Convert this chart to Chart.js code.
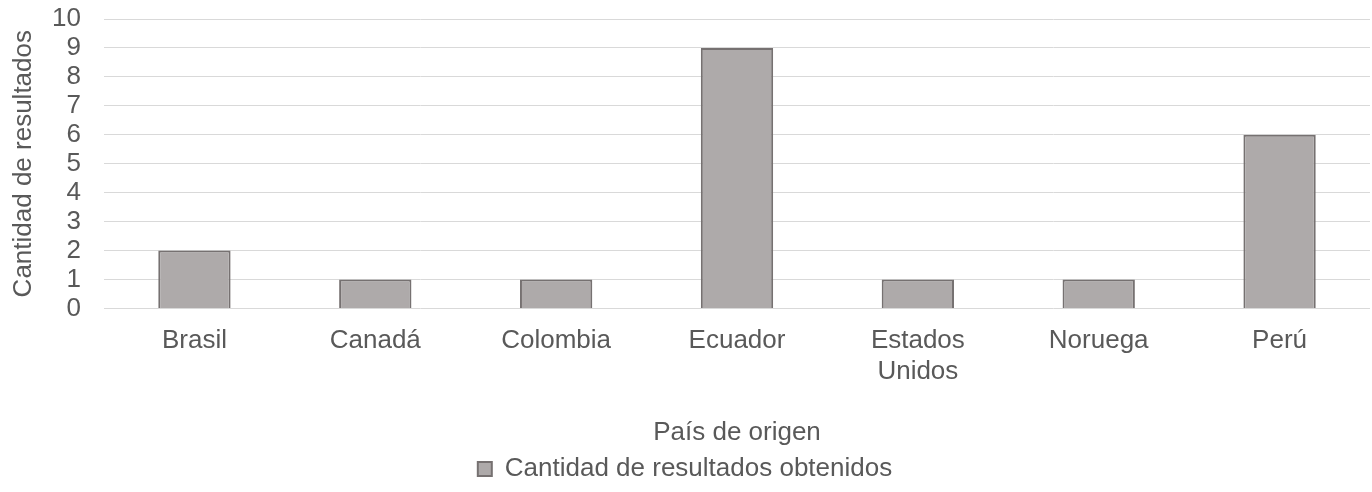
<!DOCTYPE html>
<html>
<head>
<meta charset="utf-8">
<script src="https://cdn.jsdelivr.net/npm/chart.js@4/dist/chart.umd.min.js"></script>
<style>
  html, body { margin: 0; padding: 0; background: #fff; }
  #wrap { width: 1372px; height: 492px; }
</style>
</head>
<body>
<div id="wrap"><canvas id="myChart"></canvas></div>
<script>
const paises = ['Brasil', 'Canadá', 'Colombia', 'Ecuador', ['Estados', 'Unidos'], 'Noruega', 'Perú']
const resultados = [2, 1, 1, 9, 1, 1, 6]
const serieLabel = 'Cantidad de resultados obtenidos'
const yTitle = 'Cantidad de resultados'
const xTitle = 'País de origen'

const textColor = '#595959'
const fontFamily = '"Liberation Sans", Arial, sans-serif'

Chart.defaults.font.family = fontFamily
Chart.defaults.font.size = 26
Chart.defaults.color = textColor

const ctx = document.getElementById('myChart')
const myChart = new Chart(ctx, {
  type: 'bar',
  data: {
    labels: paises,
    datasets: [{
      label: serieLabel,
      data: resultados,
      backgroundColor: '#AEAAAA',
      borderColor: '#767171',
      borderWidth: 2,
      borderSkipped: 'bottom',
      barPercentage: 0.4,
      categoryPercentage: 1
    }]
  },
  options: {
    responsive: true,
    maintainAspectRatio: false,
    animation: false,
    layout: {
      padding: { top: 0, right: 2, left: 0, bottom: 0 }
    },
    plugins: {
      legend: {
        position: 'bottom',
        labels: {
          boxWidth: 14,
          boxHeight: 14,
          padding: 8,
          color: textColor,
          font: { size: 26 }
        }
      },
      tooltip: { enabled: false }
    },
    scales: {
      x: {
        grid: { display: false },
        border: { display: false },
        ticks: {
          color: textColor,
          padding: 9,
          maxRotation: 0,
          autoSkip: false
        },
        title: {
          display: true,
          text: xTitle,
          color: textColor,
          padding: { top: 20, bottom: 0 }
        }
      },
      y: {
        min: 0,
        max: 10,
        grid: {
          color: '#D9D9D9',
          lineWidth: 1,
          drawTicks: false
        },
        border: { display: false },
        ticks: {
          stepSize: 1,
          autoSkip: false,
          color: textColor,
          padding: 23
        },
        title: {
          display: true,
          text: yTitle,
          color: textColor,
          padding: { top: 8, bottom: 0 }
        },
        afterFit: function(scale) {
          // fixed axis width, and keep the "10" line near the top edge
          scale.width = 104
          scale.paddingTop = 19
          scale.paddingBottom = 0
        }
      }
    }
  }
})
</script>
</body>
</html>
